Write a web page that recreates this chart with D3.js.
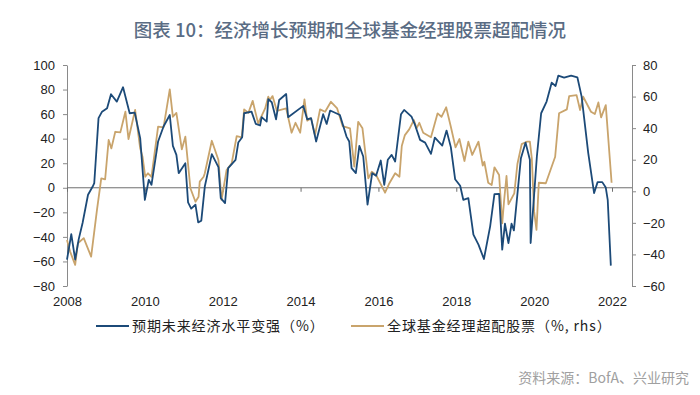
<!DOCTYPE html>
<html><head><meta charset="utf-8">
<script src="https://cdn.jsdelivr.net/npm/d3@7"></script>
<style>
html,body{margin:0;padding:0;background:#fff;}
svg{display:block;}
</style></head>
<body>
<svg id="chart" width="700" height="395"></svg>
<script>
// ---- data ----
const title = "图表 10：经济增长预期和全球基金经理股票超配情况";
const source = "资料来源：BofA、兴业研究";
const seriesNames = ["预期未来经济水平变强（%）", "全球基金经理超配股票（%, rhs）"];
const yearTicks = [2008, 2010, 2012, 2014, 2016, 2018, 2020, 2022];
const leftTicks = [100, 80, 60, 40, 20, 0, -20, -40, -60, -80];
const rightTicks = [80, 60, 40, 20, 0, -20, -40, -60];

// Series 1: 预期未来经济水平变强 (left axis)
const growthDates = [2008.00,2008.11,2008.21,2008.30,2008.40,2008.54,2008.66,2008.70,2008.81,2008.90,2009.03,2009.13,2009.28,2009.44,2009.61,2009.74,2009.88,2010.00,2010.10,2010.17,2010.34,2010.48,2010.64,2010.72,2010.81,2010.87,2011.04,2011.11,2011.19,2011.30,2011.37,2011.45,2011.54,2011.72,2011.89,2011.95,2012.06,2012.14,2012.33,2012.40,2012.50,2012.55,2012.74,2012.85,2012.96,2013.00,2013.13,2013.17,2013.26,2013.37,2013.45,2013.63,2013.68,2014.07,2014.17,2014.27,2014.40,2014.58,2014.67,2014.76,2014.97,2015.01,2015.18,2015.25,2015.31,2015.42,2015.51,2015.61,2015.72,2015.84,2015.94,2016.06,2016.15,2016.24,2016.34,2016.43,2016.58,2016.66,2016.85,2016.94,2017.07,2017.20,2017.35,2017.45,2017.64,2017.75,2017.86,2017.97,2018.10,2018.18,2018.31,2018.44,2018.57,2018.71,2018.87,2018.98,2019.10,2019.18,2019.25,2019.34,2019.42,2019.48,2019.66,2019.78,2019.89,2019.91,2020.07,2020.18,2020.32,2020.45,2020.55,2020.62,2020.77,2020.95,2021.11,2021.22,2021.39,2021.54,2021.63,2021.75,2021.84,2021.89,2021.97];
const growthValues = [-58.5,-37.7,-58.5,-42,-28.7,-5.7,1,3.8,56.7,62,64.8,76.2,70.2,81.9,60.7,61.2,40.4,-9.8,6.5,2.4,37.7,49.9,59.3,34.1,26.8,11.9,20,-11.9,-17,-13.8,-28.2,-26.8,1,27.4,16.8,-8.4,-12.5,16,22.8,36.8,41.2,60.7,62,52,50.7,57.5,53.9,72.1,69.7,55.8,71.5,76.4,57.5,66.7,55.8,56.7,37.7,59.9,52,62.9,59.9,59.3,41.7,37.7,16,11.9,34.1,25.5,-13.8,11.9,9.8,22.2,2.4,22.8,26.8,21.4,59.9,63.4,58,51.2,39,36.8,27.6,40.9,34.4,46.6,33.1,7,1.6,-9.8,-8.4,-38.2,-46.3,-58,-31.4,-5.1,-4.9,-50.4,-29.3,-45,-29.3,-34.7,24.1,36.8,22.8,-45,25.5,60.7,70.2,85.6,82.9,91.3,89.7,91.3,90,74.2,28.2,-4.3,4.6,4.6,0.2,-9.8,-63.4];

// Series 2: 全球基金经理超配股票 (right axis)
const equityDates = [2008.00,2008.08,2008.21,2008.28,2008.43,2008.62,2008.77,2008.88,2008.98,2009.07,2009.14,2009.24,2009.37,2009.50,2009.58,2009.75,2009.88,2009.94,2010.01,2010.08,2010.17,2010.34,2010.48,2010.64,2010.72,2010.81,2010.95,2011.04,2011.17,2011.30,2011.38,2011.41,2011.51,2011.54,2011.72,2011.89,2011.97,2012.10,2012.23,2012.36,2012.49,2012.55,2012.66,2012.77,2012.91,2013.09,2013.17,2013.21,2013.28,2013.39,2013.63,2013.77,2013.87,2013.99,2014.10,2014.17,2014.27,2014.37,2014.50,2014.63,2014.78,2014.94,2015.08,2015.27,2015.38,2015.48,2015.59,2015.74,2015.83,2015.94,2016.17,2016.27,2016.43,2016.54,2016.60,2016.68,2016.79,2016.91,2016.98,2017.05,2017.15,2017.35,2017.52,2017.62,2017.74,2017.86,2017.98,2018.08,2018.21,2018.31,2018.41,2018.57,2018.68,2018.72,2018.82,2018.91,2018.98,2019.10,2019.18,2019.23,2019.29,2019.34,2019.49,2019.57,2019.68,2019.81,2019.89,2019.94,2020.00,2020.06,2020.12,2020.30,2020.54,2020.64,2020.84,2020.90,2021.09,2021.18,2021.26,2021.46,2021.56,2021.65,2021.72,2021.84,2021.99];
const equityValues = [-30.8,-38.2,-46.6,-32.9,-29.7,-41.4,-11.8,8.2,7.6,32.5,27.2,37.7,37.3,50.4,33.1,51.5,27.2,21.9,9.2,11.4,9.2,40.9,40.5,64.6,47.2,49.7,26.6,34.6,1.9,-6.6,-3.4,6.1,9.2,11.4,32,19.8,-5.5,13.5,17.7,35,34.2,51.9,49.7,57.3,43,52.5,59.9,57.8,60.3,51,52.5,37.1,43.4,37.1,58.2,44.7,46.2,35.6,51.9,50.4,56.7,52.5,41.3,39.9,15.6,44,39.9,8.2,12.4,10.3,-0.9,4.6,11.4,9.2,28.7,35.6,39.2,45.1,39.9,43.4,37.1,34.2,49.4,47.2,53.2,40.9,27.8,33.1,19.2,31.4,23,31.4,16.2,18.7,5.4,4,15.2,10.3,-20.3,-5.5,9.7,-8.2,-1.3,17.3,29.9,31.4,31.4,20.9,-12.9,-24.5,5.4,5.1,21.9,49.4,51.9,60.3,60.9,51.5,59.9,50.4,48.9,56.3,46.8,54.6,5.4];

// ---- drawing ----
const svg = d3.select("#chart");
const blue = "#1c4a78", tan = "#c9a46c";
const axisColor = "#8a8a8a";
const numFont = "'Liberation Sans', Arial, sans-serif";
const cjkFont = "'Noto Sans CJK SC', 'Noto Sans', sans-serif";

const plot = {left: 67, right: 632, top: 65, bottom: 286, xEnd: 612};

const x = d3.scaleLinear().domain([2008, 2022]).range([plot.left, plot.xEnd]);
const yL = d3.scaleLinear().domain([-80, 100]).range([plot.bottom, plot.top]);
const yR = d3.scaleLinear().domain([-60, 80]).range([plot.bottom, plot.top]);

// title
svg.append("text").attr("x", 350).attr("y", 37).attr("text-anchor", "middle")
  .attr("font-family", cjkFont).attr("font-size", 18.5).attr("font-weight", 500)
  .attr("fill", "#5a6c84").text(title);

// left axis
const gL = svg.append("g").attr("transform", `translate(${plot.left},0)`)
  .call(d3.axisLeft(yL).tickValues(leftTicks).tickSize(4).tickPadding(8).tickSizeOuter(0));
// right axis
const gR = svg.append("g").attr("transform", `translate(${plot.right},0)`)
  .call(d3.axisRight(yR).tickValues(rightTicks).tickSize(4).tickPadding(7).tickSizeOuter(0));
[gL, gR].forEach(g => {
  g.select(".domain").attr("stroke", axisColor);
  g.selectAll(".tick line").attr("stroke", axisColor);
  g.selectAll("text").attr("font-family", numFont).attr("font-size", 13).attr("fill", "#222");
});

// zero line with year ticks
const gX = svg.append("g").attr("transform", `translate(0,${yL(0)})`)
  .call(d3.axisBottom(x).tickValues(yearTicks).tickSize(4).tickFormat("").tickSizeOuter(0));
gX.select(".domain").attr("stroke", "#6f6f6f").attr("d", `M${plot.left},0H${plot.right}`);
gX.selectAll(".tick line").attr("stroke", "#6f6f6f");

// year labels at bottom
const gXL = svg.append("g").attr("transform", `translate(0,${plot.bottom})`)
  .call(d3.axisBottom(x).tickValues(yearTicks).tickSize(0).tickPadding(11).tickFormat(d3.format("d")));
gXL.select(".domain").remove();
gXL.selectAll("text").attr("font-family", numFont).attr("font-size", 13).attr("fill", "#222");

// lines
const growth = growthDates.map((d, i) => [d, growthValues[i]]);
const equity = equityDates.map((d, i) => [d, equityValues[i]]);

svg.append("path").datum(equity)
  .attr("fill", "none").attr("stroke", tan).attr("stroke-width", 1.8).attr("stroke-linejoin", "round")
  .attr("d", d3.line().x(d => x(d[0])).y(d => yR(d[1])));
svg.append("path").datum(growth)
  .attr("fill", "none").attr("stroke", blue).attr("stroke-width", 1.8).attr("stroke-linejoin", "round")
  .attr("d", d3.line().x(d => x(d[0])).y(d => yL(d[1])));

// legend
const legend = [
  {name: seriesNames[0], color: blue, x: 96},
  {name: seriesNames[1], color: tan, x: 351}
];
const lg = svg.append("g");
legend.forEach(l => {
  lg.append("line").attr("x1", l.x).attr("x2", l.x + 33).attr("y1", 326).attr("y2", 326)
    .attr("stroke", l.color).attr("stroke-width", 2);
  lg.append("text").attr("x", l.x + 36).attr("y", 331)
    .attr("font-family", cjkFont).attr("font-size", 14).attr("letter-spacing", 0.9)
    .attr("fill", "#222").text(l.name);
});

// source
svg.append("text").attr("x", 689).attr("y", 383).attr("text-anchor", "end")
  .attr("font-family", cjkFont).attr("font-size", 14).attr("fill", "#a0a0a0").text(source);
</script>
</body></html>
